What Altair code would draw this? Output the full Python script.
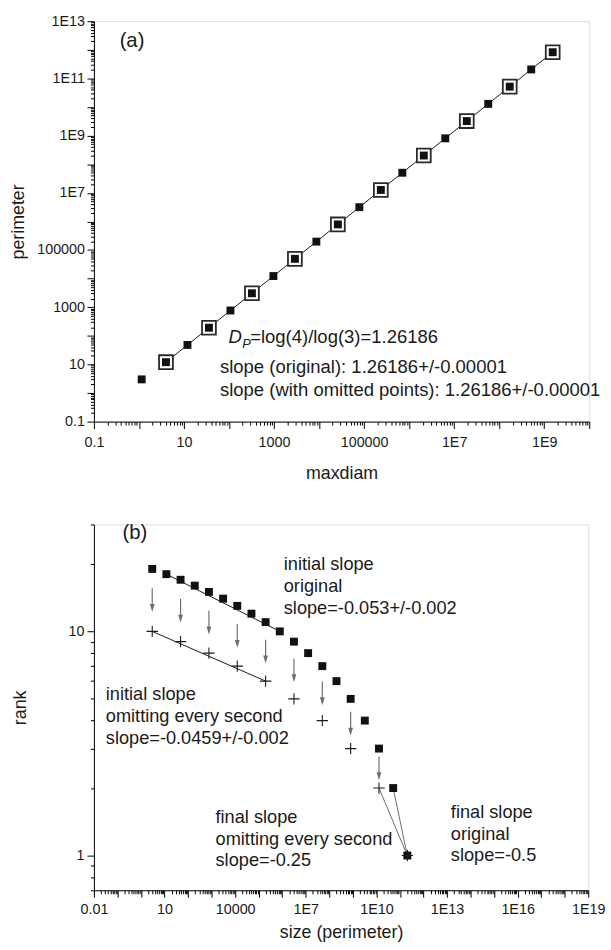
import altair as alt
import pandas as pd

FONT = "Liberation Sans"
INK = "#1a1a1a"
GREY = "#6e6e6e"

# ---------------- (a) Koch curve: maximum diameter vs perimeter ----------------
maxdiam = [1.15, 3.98, 11.95, 35.86, 107.6, 322.7, 968.2, 2904, 8713, 26139,
           78418, 235253, 705760, 2117280, 6351840, 19055521, 57166564,
           171499692, 514499076, 1543497228]
perimeter = [3, 12, 48, 192, 768, 3072, 12288, 49152, 196608, 786432,
             3145728, 12582912, 50331648, 201326592, 805306368, 3221225472,
             12884901888, 51539607552, 206158430208, 824633720832]
# points kept when every second iteration is omitted
kept = [False, True, False, True, False, True, False, True, False, True,
        False, True, False, True, False, True, False, True, False, True]

# ---------------- (b) rank-size plot of the perimeters ----------------
size_orig = [3, 12, 48, 192, 768, 3072, 12288, 49152, 196608, 786432,
             3145728, 12582912, 50331648, 201326592, 805306368, 3221225472,
             12884901888, 51539607552, 206158430208]
rank_orig = [19, 18, 17, 16, 15, 14, 13, 12, 11, 10, 9, 8, 7, 6, 5, 4, 3, 2, 1]
size_omit = [3, 48, 768, 12288, 196608, 3145728, 50331648, 805306368,
             12884901888, 206158430208]
rank_omit = [10, 9, 8, 7, 6, 5, 4, 3, 2, 1]

# ---------------- tick labels ----------------
a_x_label_vals = [0.1, 10, 1000, 1e5, 1e7, 1e9]
a_x_label_txt = ["0.1", "10", "1000", "100000", "1E7", "1E9"]
a_y_label_vals = [0.1, 10, 1000, 1e5, 1e7, 1e9, 1e11, 1e13]
a_y_label_txt = ["0.1", "10", "1000", "100000", "1E7", "1E9", "1E11", "1E13"]
b_x_label_vals = [0.01, 10, 1e4, 1e7, 1e10, 1e13, 1e16, 1e19]
b_x_label_txt = ["0.01", "10", "10000", "1E7", "1E10", "1E13", "1E16", "1E19"]
b_y_label_vals = [1, 10]
b_y_label_txt = ["1", "10"]


def log_ticks(lo, hi, vmin, vmax):
    """Decade ticks plus the 2..9 minor ticks between them, inside [vmin, vmax]."""
    out = []
    for d in range(lo, hi + 1):
        for k in range(1, 10):
            v = k * 10.0 ** d
            if vmin * 0.999 <= v <= vmax * 1.001:
                out.append(v)
    return out


def label_expr(vals, texts):
    parts = [f"abs(datum.value / {v:g} - 1) < 1e-6 ? '{t}'" for v, t in zip(vals, texts)]
    return " : ".join(parts) + " : ''"


IS_DECADE = ("abs(log(datum.value) / LN10 - round(log(datum.value) / LN10)) < 1e-6")


def log_axis(values, orient, expr, title, pad, tx, ty, tbase):
    return alt.Axis(values=values, orient=orient, labelExpr=expr, title=title,
                    ticks=True,
                    tickSize={"condition": {"test": IS_DECADE, "value": 7}, "value": 3.5},
                    tickColor="black", tickWidth=1,
                    domain=True, domainColor="black", domainWidth=1, grid=False,
                    labelFont=FONT, labelFontSize=14.5, labelColor=INK,
                    labelPadding=pad, labelFlush=False, labelOverlap=False,
                    titleFont=FONT, titleFontSize=18, titleFontWeight="normal",
                    titleColor=INK, titleX=tx, titleY=ty, titleBaseline=tbase,
                    titleAlign="center")


def note(text, x, y, size=18, style="normal", baseline="alphabetic"):
    return alt.Chart(pd.DataFrame({"t": [text]})).mark_text(
        align="left", baseline=baseline, font=FONT, fontSize=size,
        fontStyle=style, color=INK
    ).encode(x=alt.value(x), y=alt.value(y), text="t:N")


# ---------------- panel (a) ----------------
WA, HA = 501, 405
OXA, OYA = 94, 16
xa = alt.Scale(type="log", domain=[0.1, 1e10], nice=False)
ya = alt.Scale(type="log", domain=[0.1, 1e13], nice=False)

df_a = pd.DataFrame({"maxdiam": maxdiam, "perimeter": perimeter, "kept": kept})

line_a = alt.Chart(df_a.iloc[1:]).mark_line(color=INK, strokeWidth=1).encode(
    x=alt.X("maxdiam:Q", scale=xa,
            axis=log_axis(log_ticks(-1, 10, 0.1, 1e10), "bottom",
                          label_expr(a_x_label_vals, a_x_label_txt),
                          "maxdiam", 7.5, WA / 2, 58, "alphabetic")),
    y=alt.Y("perimeter:Q", scale=ya,
            axis=log_axis(log_ticks(-1, 13, 0.1, 1e13), "left",
                          label_expr(a_y_label_vals, a_y_label_txt),
                          "perimeter", 2.5, -76, HA / 2, "middle")),
)
ring_a = alt.Chart(df_a).mark_point(
    shape="square", size=196, fill="white", stroke="#2a2a2a", strokeWidth=1.8,
    opacity=1, fillOpacity=1
).encode(
    x=alt.X("maxdiam:Q", scale=xa),
    y=alt.Y("perimeter:Q", scale=ya),
).transform_filter("datum.kept")
dots_a = alt.Chart(df_a).mark_square(size=64, color="#111111", opacity=1).encode(
    x=alt.X("maxdiam:Q", scale=xa),
    y=alt.Y("perimeter:Q", scale=ya),
)

TA = 18.7
notes_a = [
    note("(a)", 120 - OXA, 36 - OYA, size=20.5, baseline="middle"),
    note("D", 230 - OXA, 341 - OYA, size=TA, style="italic"),
    note("P", 244 - OXA, 347 - OYA, size=13, style="italic"),
    note("=log(4)/log(3)=1.26186", 252 - OXA, 341 - OYA, size=TA),
    note("slope (original): 1.26186+/-0.00001", 221.5 - OXA, 371.7 - OYA, size=TA),
    note("slope (with omitted points): 1.26186+/-0.00001", 221.5 - OXA, 395.5 - OYA, size=TA),
]

panel_a = alt.layer(line_a, ring_a, dots_a, *notes_a).properties(width=WA, height=HA)

# ---------------- panel (b) ----------------
WB, HB = 500, 370
OXB, OYB = 94, 523
xb = alt.Scale(type="log", domain=[0.01, 1e19], nice=False)
yb = alt.Scale(type="log", domain=[0.7, 30], nice=False)

df_orig = pd.DataFrame({"size": size_orig, "rank": rank_orig})
df_omit = pd.DataFrame({"size": size_omit, "rank": rank_omit})

# straight fits over the initial parts of both series
fit_orig = df_orig.iloc[[1, 9]]
fit_omit = df_omit.iloc[[0, 4]]

# arrows from each original point down to the matching point of the thinned series
arrows = pd.DataFrame({
    "size": size_omit[:-1],
    "from": rank_orig[0:18:2],
    "to": rank_omit[:-1],
})
arrows["mid"] = (arrows["from"] * arrows["to"]) ** 0.5

# last step of both series to rank 1
tail = pd.DataFrame({
    "size": [size_omit[-2], size_orig[-2]],
    "rank": [rank_omit[-2], rank_orig[-2]],
    "size2": [size_orig[-1], size_orig[-1]],
    "rank2": [rank_orig[-1], rank_orig[-1]],
})

fit_line_orig = alt.Chart(fit_orig).mark_line(color=INK, strokeWidth=1).encode(
    x=alt.X("size:Q", scale=xb,
            axis=log_axis(log_ticks(-2, 19, 0.01, 1e19), "bottom",
                          label_expr(b_x_label_vals, b_x_label_txt),
                          "size (perimeter)", 5.5, WB / 2, 48, "alphabetic")),
    y=alt.Y("rank:Q", scale=yb,
            axis=log_axis(log_ticks(-1, 1, 0.7, 30), "left",
                          label_expr(b_y_label_vals, b_y_label_txt),
                          "rank", 3, -74, HB / 2, "middle")),
)
fit_line_omit = alt.Chart(fit_omit).mark_line(color=INK, strokeWidth=1).encode(
    x=alt.X("size:Q", scale=xb),
    y=alt.Y("rank:Q", scale=yb),
)
arrow_shaft = alt.Chart(arrows).mark_rule(
    color=GREY, strokeWidth=1.2, yOffset=-12, y2Offset=5
).encode(
    x=alt.X("size:Q", scale=xb),
    y=alt.Y("mid:Q", scale=yb),
    y2="mid:Q",
)
arrow_head = alt.Chart(arrows).mark_point(
    shape="M-0.6,-1L0.6,-1L0,1Z", size=64, filled=True, color=GREY,
    opacity=1, yOffset=8
).encode(
    x=alt.X("size:Q", scale=xb),
    y=alt.Y("mid:Q", scale=yb),
)
tail_lines = alt.Chart(tail).mark_rule(color=GREY, strokeWidth=1).encode(
    x=alt.X("size:Q", scale=xb),
    y=alt.Y("rank:Q", scale=yb),
    x2="size2:Q",
    y2="rank2:Q",
)
dots_b = alt.Chart(df_orig).mark_square(size=64, color="#111111", opacity=1).encode(
    x=alt.X("size:Q", scale=xb),
    y=alt.Y("rank:Q", scale=yb),
)
cross_b = alt.Chart(df_omit).mark_point(
    shape="M-1,0H1M0,-1V1", size=132, filled=False, stroke=INK,
    strokeWidth=1.1, opacity=1
).encode(
    x=alt.X("size:Q", scale=xb),
    y=alt.Y("rank:Q", scale=yb),
)

TB = 18.4
notes_b = [
    note("(b)", 123 - OXB, 532 - OYB, size=20.5, baseline="middle"),
    note("initial slope", 286 - OXB, 569.3 - OYB, size=TB),
    note("original", 286 - OXB, 591.7 - OYB, size=TB),
    note("slope=-0.053+/-0.002", 286 - OXB, 613.3 - OYB, size=TB),
    note("initial slope", 106 - OXB, 701 - OYB, size=TB),
    note("omitting every second", 106 - OXB, 723 - OYB, size=TB),
    note("slope=-0.0459+/-0.002", 106 - OXB, 745 - OYB, size=TB),
    note("final slope", 217 - OXB, 825 - OYB, size=TB),
    note("omitting every second", 217 - OXB, 847 - OYB, size=TB),
    note("slope=-0.25", 217 - OXB, 868.5 - OYB, size=TB),
    note("final slope", 455 - OXB, 820 - OYB, size=TB),
    note("original", 455 - OXB, 842 - OYB, size=TB),
    note("slope=-0.5", 455 - OXB, 863.5 - OYB, size=TB),
]

panel_b = alt.layer(
    fit_line_orig, fit_line_omit, arrow_shaft, arrow_head, tail_lines,
    dots_b, cross_b, *notes_b
).properties(width=WB, height=HB)

chart = alt.vconcat(panel_a, panel_b, spacing=104, bounds="flush").properties(
    padding={"left": 9, "top": 7, "right": 5, "bottom": 5}
).configure_view(strokeWidth=0).configure(background="white")

chart.save("out.html", embed_options={"renderer": "svg", "actions": False})
